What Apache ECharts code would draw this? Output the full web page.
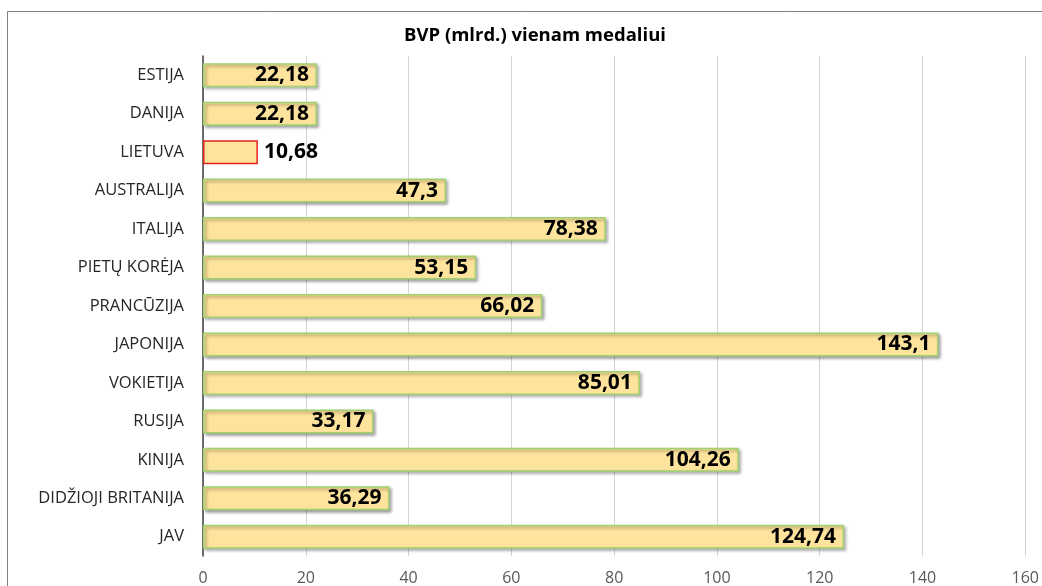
<!DOCTYPE html>
<html>
<head>
<meta charset="utf-8">
<script src="https://cdn.jsdelivr.net/npm/echarts@6/dist/echarts.min.js"></script>
<style>
  html, body { margin: 0; padding: 0; background: #fff; }
  #chart { width: 1042px; height: 586px; }
</style>
</head>
<body>
<div id="chart"></div>
<script>
// categories from top to bottom
var countries = ['ESTIJA', 'DANIJA', 'LIETUVA', 'AUSTRALIJA', 'ITALIJA', 'PIETŲ KORĖJA',
  'PRANCŪZIJA', 'JAPONIJA', 'VOKIETIJA', 'RUSIJA', 'KINIJA', 'DIDŽIOJI BRITANIJA', 'JAV']
var gdpPerMedal = [22.18, 22.18, 10.68, 47.3, 78.38, 53.15, 66.02, 143.1, 85.01, 33.17, 104.26, 36.29, 124.74]
var highlight = 'LIETUVA'
var xTicks = [0, 20, 40, 60, 80, 100, 120, 140, 160]

var fmt = function(v) { return String(v).replace('.', ',') }

var chart = echarts.init(document.getElementById('chart'))

var seriesData = gdpPerMedal.map(function(v, i) {
  var item = { value: v }
  if (countries[i] === highlight) {
    item.itemStyle = { borderColor: '#e8231f', shadowColor: 'rgba(0,0,0,0)' }
    item.label = { position: 'right', distance: 6 }
  }
  return item
})

var option = {
  animation: false,
  backgroundColor: '#fff',
  title: {
    text: 'BVP (mlrd.) vienam medaliui',
    left: 530,
    top: 21,
    textAlign: 'center',
    textStyle: { fontFamily: 'Open Sans', fontSize: 18.5, fontWeight: 'bold', color: '#000' }
  },
  graphic: [{
    type: 'rect',
    shape: { x: 7.5, y: 11.5, width: 1100, height: 700 },
    style: { fill: 'none', stroke: '#7f7f7f', lineWidth: 1 },
    silent: true
  }],
  grid: { left: 203, right: 13, top: 56, bottom: 28 },
  xAxis: {
    type: 'value',
    min: xTicks[0],
    max: xTicks[xTicks.length - 1],
    interval: 20,
    axisLine: { show: false },
    axisTick: { show: false },
    splitLine: { show: true, lineStyle: { color: '#d4d4d4', width: 1 } },
    axisLabel: { color: '#595959', fontFamily: 'Open Sans', fontSize: 16, margin: 14 }
  },
  yAxis: {
    type: 'category',
    inverse: true,
    data: countries,
    axisLine: { show: true, lineStyle: { color: '#404040', width: 1.5 } },
    axisTick: { show: false },
    axisLabel: { color: '#262626', fontFamily: 'Open Sans', fontSize: 16.5, margin: 19 }
  },
  series: [{
    type: 'bar',
    data: seriesData,
    barWidth: 24,
    itemStyle: {
      color: '#fde39b',
      borderColor: '#9fd16f',
      borderWidth: 1.5,
      shadowColor: 'rgba(0,0,0,0.35)',
      shadowBlur: 3,
      shadowOffsetX: 2,
      shadowOffsetY: 2
    },
    label: {
      show: true,
      position: 'insideRight',
      distance: 8,
      color: '#000',
      fontFamily: 'Open Sans',
      fontWeight: 'bold',
      fontSize: 21,
      formatter: function(p) { return fmt(p.value) }
    }
  }]
}

chart.setOption(option)
</script>
</body>
</html>
